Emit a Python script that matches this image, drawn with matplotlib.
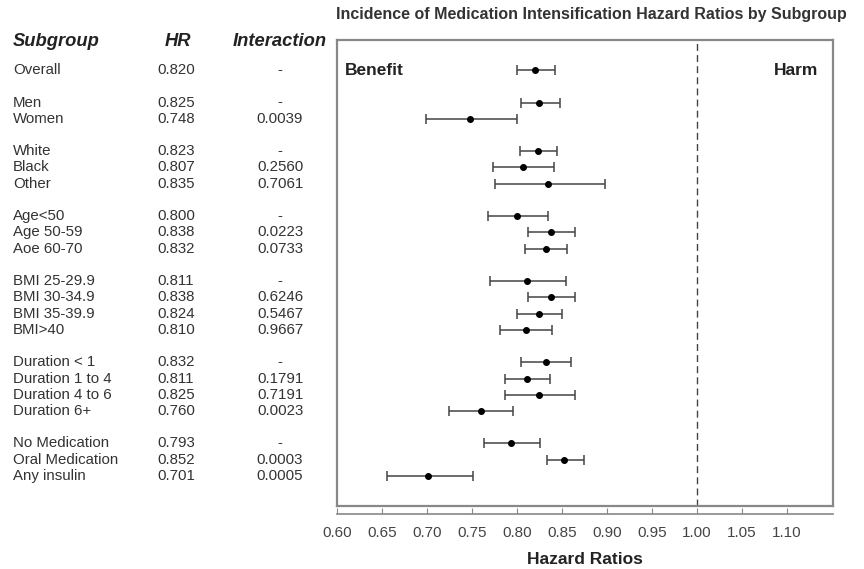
import numpy as np
import matplotlib
matplotlib.use('Agg')
import matplotlib.pyplot as plt
import matplotlib.transforms as mtrans

plt.rcParams['font.family'] = ['Liberation Sans', 'DejaVu Sans']

# subgroup rows (None = empty spacer row)
labels = ['Overall', None,
          'Men', 'Women', None,
          'White', 'Black', 'Other', None,
          'Age<50', 'Age 50-59', 'Aoe 60-70', None,
          'BMI 25-29.9', 'BMI 30-34.9', 'BMI 35-39.9', 'BMI>40', None,
          'Duration < 1', 'Duration 1 to 4', 'Duration 4 to 6', 'Duration 6+', None,
          'No Medication', 'Oral Medication', 'Any insulin']
hr_text = ['0.820', '0.825', '0.748', '0.823', '0.807', '0.835',
           '0.800', '0.838', '0.832', '0.811', '0.838', '0.824', '0.810',
           '0.832', '0.811', '0.825', '0.760', '0.793', '0.852', '0.701']
inter_text = ['-', '-', '0.0039', '-', '0.2560', '0.7061',
              '-', '0.0223', '0.0733', '-', '0.6246', '0.5467', '0.9667',
              '-', '0.1791', '0.7191', '0.0023', '-', '0.0003', '0.0005']
hr = [0.820, 0.825, 0.748, 0.823, 0.807, 0.835,
      0.800, 0.838, 0.832, 0.811, 0.838, 0.824, 0.810,
      0.832, 0.811, 0.825, 0.760, 0.793, 0.852, 0.701]
lo = [0.800, 0.804, 0.699, 0.803, 0.773, 0.776,
      0.768, 0.812, 0.809, 0.770, 0.812, 0.800, 0.781,
      0.805, 0.787, 0.787, 0.724, 0.763, 0.833, 0.656]
hi = [0.842, 0.848, 0.800, 0.845, 0.841, 0.898,
      0.835, 0.865, 0.856, 0.854, 0.865, 0.850, 0.839,
      0.860, 0.837, 0.865, 0.796, 0.826, 0.874, 0.751]
xticks = [0.60, 0.65, 0.70, 0.75, 0.80, 0.85, 0.90, 0.95, 1.00, 1.05, 1.10]

rows = [i for i, l in enumerate(labels) if l is not None]
names = [l for l in labels if l is not None]
hr = np.array(hr)
err = np.array([hr - np.array(lo), np.array(hi) - hr])

fig = plt.figure(figsize=(8.64, 5.69), dpi=100)
ax = fig.add_axes([0.390, 0.1107, 0.574, 0.819])

ax.errorbar(hr, rows, xerr=err, fmt='o', color='black', ms=4,
            ecolor='#444444', elinewidth=1.1, capsize=3.5, capthick=1.1)
ax.axvline(1.0, color='#444444', lw=1, ls=(0, (5, 3)))

ax.set_xlim(0.60, 1.151)
ax.set_ylim(26.85, -1.85)
ax.set_xticks([])
ax.set_yticks([])
for s in ax.spines.values():
    s.set_color('#888888')
    s.set_linewidth(1.6)

bt = mtrans.blended_transform_factory(ax.transAxes, ax.transData)
ax.text(0.015, 0.0, 'Benefit', transform=bt, fontsize=12.5, fontweight='bold',
        va='center', ha='left', color='#222222')
ax.text(0.97, 0.0, 'Harm', transform=bt, fontsize=12.5, fontweight='bold',
        va='center', ha='right', color='#222222')

# separate x axis below the box
axx = fig.add_axes([0.390, 1 - 513.5 / 569, 0.574, 0.0001])
axx.set_xlim(ax.get_xlim())
axx.set_yticks([])
for k in ['left', 'right', 'top']:
    axx.spines[k].set_visible(False)
axx.spines['bottom'].set_color('#888888')
axx.spines['bottom'].set_linewidth(1.2)
axx.set_xticks(xticks)
axx.set_xticklabels(['%.2f' % v for v in xticks])
axx.tick_params(axis='x', direction='in', length=4, color='#888888',
                labelsize=11, labelcolor='#444444', pad=9)
axx.set_xlabel('Hazard Ratios', fontsize=12.5, fontweight='bold', color='#222222', labelpad=9)

fig.text(591 / 864, 1 - 15 / 569, 'Incidence of Medication Intensification Hazard Ratios by Subgroup',
         ha='center', va='center', fontsize=11.5, fontweight='bold', color='#333333')

# table on the left
tr = mtrans.blended_transform_factory(fig.transFigure, ax.transData)
hy = -1.75
ax.text(13 / 864, hy, 'Subgroup', transform=tr, fontsize=13.2, fontweight='bold', style='italic',
        ha='left', va='center', color='#222222', clip_on=False)
ax.text(178 / 864, hy, 'HR', transform=tr, fontsize=13.2, fontweight='bold', style='italic',
        ha='center', va='center', color='#222222', clip_on=False)
ax.text(280 / 864, hy, 'Interaction', transform=tr, fontsize=13.2, fontweight='bold', style='italic',
        ha='center', va='center', color='#222222', clip_on=False)
for r, n, h, p in zip(rows, names, hr_text, inter_text):
    ax.text(13 / 864, r, n, transform=tr, fontsize=10.8, ha='left', va='center',
            color='#333333', clip_on=False)
    ax.text(157 / 864, r, h, transform=tr, fontsize=10.8, ha='left', va='center',
            color='#333333', clip_on=False)
    ax.text(280 / 864, r, p, transform=tr, fontsize=10.8, ha='center', va='center',
            color='#333333', clip_on=False)

fig.savefig('out.png', dpi=100)
